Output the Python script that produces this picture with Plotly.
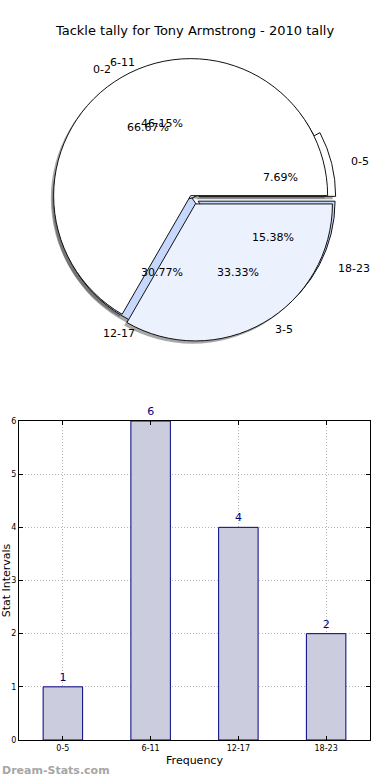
import math
import plotly.graph_objects as go

# ---------------- data ----------------
title_text = "Tackle tally for Tony Armstrong - 2010 tally"

interval_labels = ["0-5", "6-11", "12-17", "18-23"]
interval_counts = [1, 6, 4, 2]
interval_explode = [0.05, 0, 0, 0.05]
interval_colors = ["#ffffff", "#ffffff", "#c6d8fc", "#c6d8fc"]

split_labels = ["0-2", "3-5"]
split_counts = [2, 1]
split_explode = [0.02, 0.05]
split_colors = ["#ffffff", "#ebf1fd"]

bar_categories = ["0-5", "6-11", "12-17", "18-23"]
bar_values = [1, 6, 4, 2]
y_ticks = [0, 1, 2, 3, 4, 5, 6]

# ---------------- layout helpers ----------------
W, H = 390, 780
FONT = "DejaVu Sans"


def px_x(x):
    return x / W


def px_y(y):
    return 1 - y / H


# pie geometry (pixels)
CX, CY = 192, 198
RX, RY = 141, 132
R = 137
MAXPULL = 0.05
half = R * (1 + MAXPULL)
pie_dom_x = [px_x(CX - half), px_x(CX + half)]
pie_dom_y = [px_y(CY + half), px_y(CY - half)]
SH_DX, SH_DY = -2.8, 2.8
shadow_dom_x = [px_x(CX - half + SH_DX), px_x(CX + half + SH_DX)]
shadow_dom_y = [px_y(CY + half + SH_DY), px_y(CY - half + SH_DY)]

fig = go.Figure()


def add_pie(labels, values, colors, pulls, dom_x, dom_y, shadow=False):
    # plotly's counterclockwise pies end the first slice at `rotation`;
    # shift so the first slice starts at 3 o'clock and runs counterclockwise
    rot = 90 - 360.0 * values[0] / sum(values)
    fig.add_trace(go.Pie(
        labels=labels, values=values, sort=False,
        direction="counterclockwise", rotation=rot,
        pull=pulls,
        marker=dict(colors=(["rgba(60,60,60,0.45)"] * len(values)) if shadow else colors,
                    line=dict(color="rgba(0,0,0,0)" if shadow else "#111111",
                              width=1)),
        textinfo="none", hoverinfo="skip", showlegend=False,
        domain=dict(x=dom_x, y=dom_y),
    ))


# shadows first (all drawn beneath the wedges)
add_pie(interval_labels, interval_counts, interval_colors, interval_explode,
        shadow_dom_x, shadow_dom_y, shadow=True)
add_pie(split_labels, split_counts, split_colors, split_explode,
        shadow_dom_x, shadow_dom_y, shadow=True)
add_pie(interval_labels, interval_counts, interval_colors, interval_explode,
        pie_dom_x, pie_dom_y)
add_pie(split_labels, split_counts, split_colors, split_explode,
        pie_dom_x, pie_dom_y)

annotations = []


def pie_texts(labels, values, explode):
    total = sum(values)
    start = 0.0
    for lab, v, e in zip(labels, values, explode):
        span = 360.0 * v / total
        mid = math.radians(start + span / 2)
        c, s = math.cos(mid), math.sin(mid)
        # percentage at 0.6 radius
        px = CX + (0.6 + e) * RX * c
        py = CY - (0.6 + e) * RY * s
        annotations.append(dict(
            x=px_x(px), y=px_y(py), xref="paper", yref="paper",
            text=f"{100.0 * v / total:.2f}%", showarrow=False,
            xanchor="center", yanchor="middle",
            font=dict(family=FONT, size=11, color="#000000")))
        # label at 1.1 radius
        lx = CX + (1.1 + e) * RX * c
        ly = CY - (1.1 + e) * RY * s
        annotations.append(dict(
            x=px_x(lx), y=px_y(ly), xref="paper", yref="paper",
            text=lab, showarrow=False,
            xanchor="left" if c > 0 else "right", yanchor="middle",
            font=dict(family=FONT, size=11, color="#000000")))
        start += span


pie_texts(interval_labels, interval_counts, interval_explode)
pie_texts(split_labels, split_counts, split_explode)

# ---------------- bar chart ----------------
fig.add_trace(go.Bar(
    x=bar_categories, y=bar_values, width=0.45,
    marker=dict(color="#ccccdf", line=dict(color="#000080", width=1)),
    text=[str(v) for v in bar_values], textposition="outside",
    textfont=dict(family=FONT, size=11, color="#000080"),
    cliponaxis=False, hoverinfo="skip", showlegend=False,
    xaxis="x", yaxis="y",
))

annotations.append(dict(
    x=0, y=px_y(770), xref="paper", yref="paper", text="<b>Dream-Stats.com</b>",
    showarrow=False, xanchor="left", yanchor="middle",
    font=dict(family=FONT, size=11, color="#a6a6a6")))

fig.update_layout(
    width=W, height=H, autosize=False,
    margin=dict(l=0, r=0, t=0, b=0, pad=0, autoexpand=False),
    paper_bgcolor="white", plot_bgcolor="white",
    font=dict(family=FONT, color="#000000"),
    title=dict(text=title_text, x=0.5, xanchor="center", y=px_y(30),
               yanchor="middle", automargin=False,
               font=dict(family=FONT, size=13, color="#000000")),
    xaxis=dict(
        domain=[px_x(19), px_x(370)], anchor="y", automargin=False,
        range=[-0.5, 3.5], type="category",
        showline=True, linecolor="#000000", linewidth=1, mirror="ticks",
        ticks="inside", ticklen=4, tickcolor="#000000",
        showgrid=True, gridcolor="#b5b5b5", griddash="1px,2px", gridwidth=1,
        tickfont=dict(family=FONT, size=8, color="#000000"),
        title=dict(text="Frequency", standoff=4,
                   font=dict(family=FONT, size=11, color="#000000")),
        zeroline=False, fixedrange=True,
    ),
    yaxis=dict(
        domain=[px_y(740), px_y(421)], anchor="x", automargin=False,
        range=[0, 6], tickvals=y_ticks,
        showline=True, linecolor="#000000", linewidth=1, mirror="ticks",
        ticks="inside", ticklen=4, tickcolor="#000000",
        showgrid=True, gridcolor="#b5b5b5", griddash="1px,2px", gridwidth=1,
        tickfont=dict(family=FONT, size=8, color="#000000"),
        title=dict(text="Stat Intervals", standoff=1,
                   font=dict(family=FONT, size=11, color="#000000")),
        zeroline=False, fixedrange=True,
    ),
    annotations=annotations,
)

fig.write_html(
    "out.html",
    config={"displayModeBar": False},
    post_script="document.body.style.margin='0';document.body.style.overflow='hidden';",
)
